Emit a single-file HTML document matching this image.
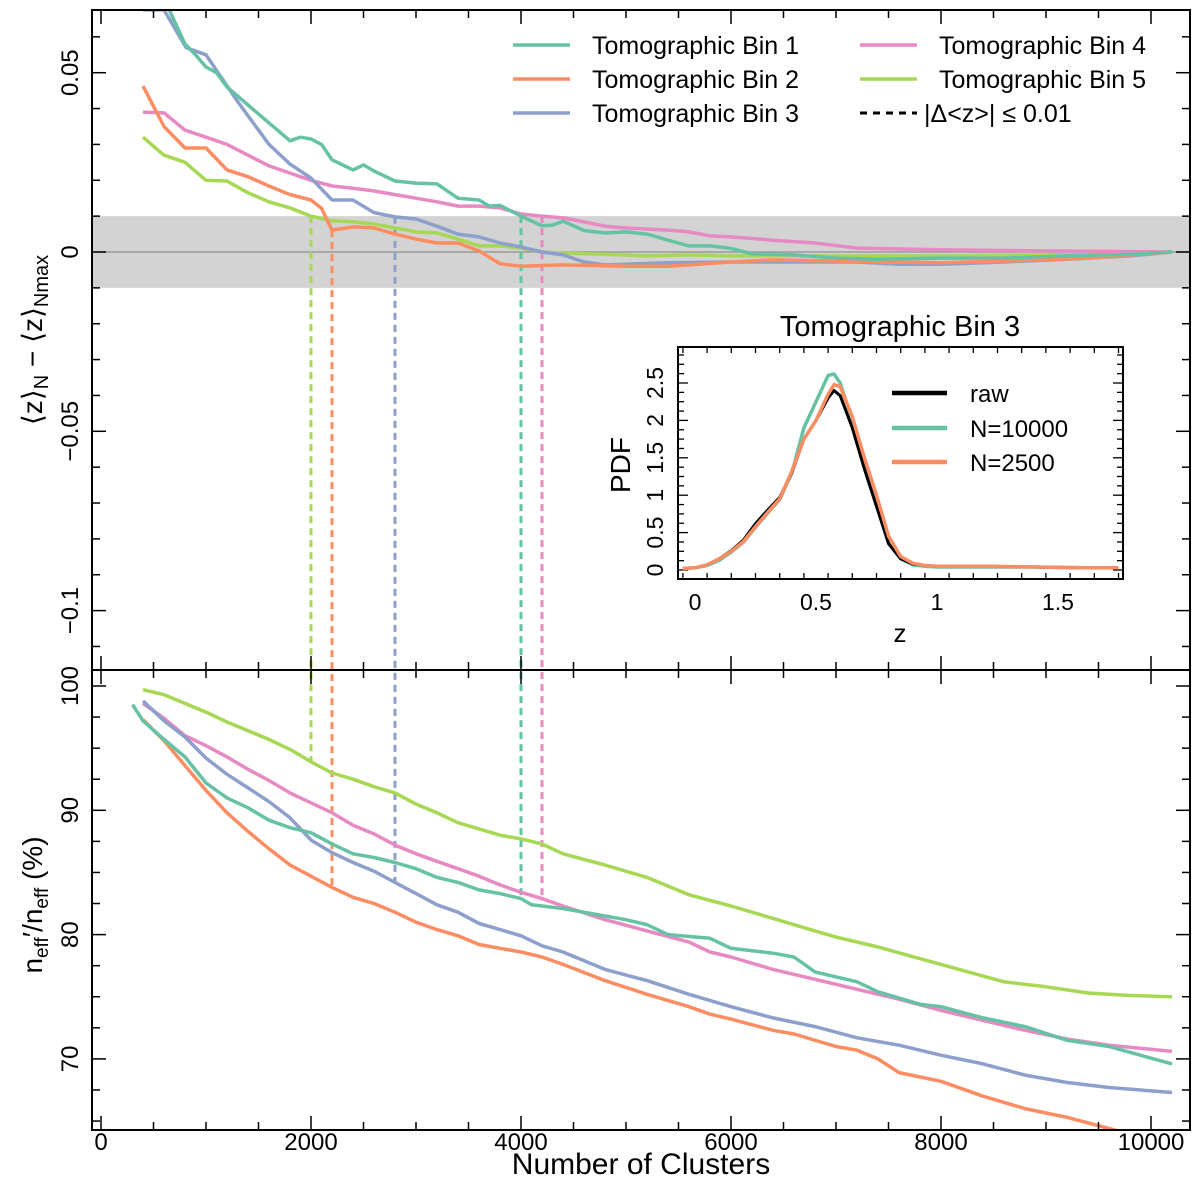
<!DOCTYPE html>
<html><head><meta charset="utf-8"><style>
body{margin:0;background:#fff}
svg{display:block;font-family:"Liberation Sans",sans-serif}
</style></head><body>
<svg id="c" width="1200" height="1186" viewBox="0 0 1200 1186"></svg>
<script>
const colors=['#66c2a5','#fc8d62','#8da0cb','#e78ac3','#a6d854'];
const binNames=['Tomographic Bin 1','Tomographic Bin 2','Tomographic Bin 3','Tomographic Bin 4','Tomographic Bin 5'];
// top panel: N and delta <z>
const topN1=[650,800,900,1000,1100,1200,1400,1600,1800,1900,2000,2100,2200,2400,2500,2600,2800,3000,3200,3400,3600,3700,3800,4000,4200,4300,4400,4600,4800,5000,5200,5400,5600,5800,6000,6200,6600,7000,7400,8000,8600,9200,9800,10200];
const topZ1=[0.0675,0.058,0.055,0.0516,0.050,0.046,0.041,0.036,0.031,0.032,0.0315,0.030,0.0257,0.0229,0.0243,0.0226,0.0198,0.0192,0.019,0.015,0.0145,0.0128,0.013,0.010,0.0073,0.0075,0.0086,0.006,0.0053,0.0056,0.005,0.0033,0.0017,0.0017,0.001,-0.0005,-0.0008,-0.0017,-0.002,-0.0017,-0.0017,-0.0011,-0.0006,0];
const topN2=[400,600,800,1000,1200,1400,1600,1800,2000,2100,2200,2400,2600,2800,3000,3200,3400,3600,3800,4000,4400,5000,5400,5600,6000,6400,7000,7500,8000,8600,9400,10200];
const topZ2=[0.0463,0.035,0.029,0.029,0.0229,0.021,0.0184,0.016,0.0145,0.0122,0.0061,0.007,0.0067,0.005,0.0036,0.0025,0.0025,0.0003,-0.0033,-0.004,-0.0036,-0.004,-0.004,-0.0036,-0.0028,-0.0022,-0.0025,-0.0028,-0.003,-0.0025,-0.0017,0];
const topN3=[400,600,810,1000,1300,1600,1800,2000,2200,2400,2600,2800,3000,3200,3400,3600,3800,4000,4200,4400,4600,4800,5000,5400,6000,6600,7200,7600,8000,8600,9200,9800,10200];
const topZ3=[0.0675,0.0675,0.057,0.055,0.042,0.030,0.0245,0.0206,0.0145,0.0145,0.011,0.0098,0.0092,0.0072,0.005,0.0042,0.0025,0.0014,0,-0.0008,-0.0028,-0.0036,-0.0034,-0.003,-0.0028,-0.0028,-0.0028,-0.0034,-0.0034,-0.0028,-0.002,-0.0011,0];
const topN4=[400,600,800,1000,1200,1400,1600,1800,2000,2200,2400,2600,2800,3000,3200,3400,3600,3800,4000,4200,4400,4600,4800,5000,5400,5600,5800,6000,6400,6800,7200,8000,9000,10200];
const topZ4=[0.039,0.0388,0.034,0.032,0.030,0.027,0.024,0.022,0.020,0.0184,0.0178,0.017,0.016,0.015,0.014,0.0128,0.0128,0.0123,0.0106,0.010,0.0095,0.0084,0.0072,0.0067,0.0061,0.0056,0.0045,0.0042,0.0033,0.0025,0.0011,0.0006,0.0003,0];
const topN5=[400,600,800,1000,1200,1400,1600,1800,2000,2200,2400,2600,2800,3000,3200,3400,3600,3800,4000,4200,4400,4800,5200,5600,6000,7000,8000,9000,10200];
const topZ5=[0.032,0.027,0.025,0.020,0.0198,0.0165,0.014,0.0123,0.010,0.0087,0.0084,0.0078,0.0067,0.0056,0.0053,0.0036,0.0017,0.0017,0.0011,0,-0.0003,-0.0006,-0.0011,-0.0008,-0.0011,-0.0011,-0.0011,-0.0008,0];
// bottom panel: n_eff ratio (%)
const botN1=[300,400,600,800,1000,1200,1400,1600,1800,2000,2200,2400,2600,2800,3000,3200,3400,3600,3800,4000,4100,4400,4800,5000,5200,5400,5800,6000,6400,6600,6800,7200,7400,7800,8000,8400,8800,9200,9600,10200];
const botV1=[98.5,97.2,95.7,94.3,92.2,91.0,90.2,89.2,88.6,88.2,87.3,86.5,86.2,85.8,85.3,84.6,84.2,83.6,83.3,82.9,82.4,82.1,81.5,81.2,80.8,80.0,79.7,78.9,78.5,78.2,77.0,76.2,75.4,74.4,74.2,73.3,72.6,71.5,71.0,69.6];
const botN2=[400,600,800,1000,1200,1400,1600,1800,2000,2200,2400,2600,2800,3000,3200,3400,3600,3800,4000,4200,4400,4800,5200,5600,5800,6000,6400,6600,7000,7200,7400,7600,8000,8400,8800,9200,9600,10200];
const botV2=[97.3,95.6,93.6,91.6,89.8,88.3,86.9,85.6,84.7,83.8,83.0,82.5,81.8,81.0,80.4,79.9,79.2,78.9,78.6,78.2,77.6,76.3,75.2,74.2,73.6,73.2,72.3,72.0,71.0,70.7,70.0,68.9,68.2,67.0,66.0,65.3,64.4,63.0];
const botN3=[400,600,800,1000,1200,1400,1600,1800,2000,2200,2400,2600,2800,3000,3200,3400,3600,3800,4000,4200,4400,4800,5200,5600,6000,6400,6800,7200,7600,8000,8400,8800,9200,9600,10200];
const botV3=[98.8,97.2,95.9,94.2,92.9,91.8,90.7,89.4,87.6,86.6,85.8,85.1,84.2,83.3,82.4,81.8,80.9,80.4,79.9,79.1,78.6,77.2,76.3,75.2,74.2,73.3,72.6,71.7,71.1,70.3,69.6,68.7,68.1,67.7,67.3];
const botN4=[400,600,800,1000,1200,1400,1600,1800,2000,2200,2400,2600,2800,3000,3200,3400,3600,3800,4000,4200,4400,4800,5200,5600,5800,6000,6400,6800,7200,7600,8000,8400,8800,9200,9600,10200];
const botV4=[98.6,97.4,96.0,95.2,94.3,93.3,92.4,91.4,90.6,89.8,88.8,88.1,87.2,86.5,85.9,85.3,84.7,84.0,83.4,82.9,82.3,81.2,80.3,79.4,78.6,78.2,77.2,76.4,75.6,74.8,73.9,73.1,72.3,71.6,71.1,70.6];
const botN5=[400,600,800,1000,1200,1400,1600,1800,2000,2200,2400,2600,2800,3000,3200,3400,3600,3800,4000,4200,4400,4800,5200,5600,6000,6400,6800,7000,7400,8000,8600,9000,9400,9800,10200];
const botV5=[99.7,99.3,98.6,97.9,97.1,96.4,95.7,94.9,93.9,93.0,92.5,91.9,91.4,90.5,89.8,89.0,88.5,88.0,87.7,87.3,86.5,85.6,84.6,83.2,82.3,81.3,80.3,79.8,79.0,77.6,76.2,75.8,75.3,75.1,75.0];
// thresholds |Δ<z>|<=0.01 per bin (bin1..bin5)
const threshN=[4000,2200,2800,4200,2000];
// inset PDFs
const pdfZ=[-0.05,0,0.05,0.1,0.15,0.2,0.25,0.3,0.35,0.4,0.45,0.5,0.55,0.575,0.6,0.65,0.7,0.75,0.8,0.85,0.9,0.95,1.0,1.2,1.4,1.6,1.75];
const pdfRaw=[0.02,0.03,0.07,0.15,0.26,0.4,0.62,0.8,0.97,1.3,1.75,2.0,2.3,2.4,2.33,1.9,1.35,0.85,0.35,0.15,0.08,0.06,0.05,0.05,0.04,0.03,0.03];
const pdf10000=[0.02,0.03,0.06,0.13,0.24,0.37,0.57,0.76,0.94,1.3,1.9,2.25,2.6,2.62,2.5,2.0,1.42,0.88,0.36,0.15,0.07,0.05,0.04,0.04,0.04,0.03,0.03];
const pdf2500=[0.02,0.03,0.07,0.15,0.25,0.38,0.58,0.77,0.95,1.32,1.75,2.0,2.35,2.48,2.45,2.05,1.5,1.0,0.45,0.18,0.09,0.06,0.05,0.05,0.04,0.03,0.03];
const xTicks=[0,2000,4000,6000,8000,10000];
const topTicks=[0.05,0,-0.05,-0.1];
const topTickLabels=['0.05','0','\u22120.05','\u22120.1'];
const botTicks=[100,90,80,70];

const NS='http://www.w3.org/2000/svg';
const svg=document.getElementById('c');
function mk(tag,attrs,parent){const e=document.createElementNS(NS,tag);for(const k in attrs)e.setAttribute(k,attrs[k]);(parent||svg).appendChild(e);return e;}
const L=92,R=1190,T=10,MID=670,B=1130;
const X=n=>101+n*0.105;
const YT=v=>252-v*3586;
const YB=v=>686+(100-v)*12.43;
const IX=z=>695+z*242;
const IY=p=>570-p*74.8;

const defs=mk('defs',{});
const c1=mk('clipPath',{id:'ct'},defs);mk('rect',{x:L,y:T,width:R-L,height:MID-T},c1);
const c2=mk('clipPath',{id:'cb'},defs);mk('rect',{x:L,y:MID,width:R-L,height:B-MID},c2);

const band=mk('rect',{x:L+1,y:YT(0.01),width:R-L-2,height:YT(-0.01)-YT(0.01),fill:'#d3d3d3'});


const zl=mk('line',{x1:L,x2:R,y1:YT(0),y2:YT(0),stroke:'#999','stroke-width':1.5});



const topSets=[[topN1,topZ1],[topN2,topZ2],[topN3,topZ3],[topN4,topZ4],[topN5,topZ5]];
const botSets=[[botN1,botV1],[botN2,botV2],[botN3,botV3],[botN4,botV4],[botN5,botV5]];
function interp(ns,vs,n){for(let i=1;i<ns.length;i++){if(ns[i]>=n){const t=(n-ns[i-1])/(ns[i]-ns[i-1]);return vs[i-1]+t*(vs[i]-vs[i-1]);}}return vs[vs.length-1];}
threshN.forEach((n,i)=>{
  const y1=YT(interp(topSets[i][0],topSets[i][1],n));
  const y2=YB(interp(botSets[i][0],botSets[i][1],n));
  const l=mk('line',{x1:X(n),x2:X(n),y1:y1,y2:y2,stroke:colors[i],'stroke-width':3,'stroke-dasharray':'7,5'});
  
  
});
function poly(ns,vs,fx,fy,col,clip,name,w){
  const p=mk('polyline',{points:ns.map((n,i)=>fx(n).toFixed(1)+','+fy(vs[i]).toFixed(1)).join(' '),fill:'none',stroke:col,'stroke-width':w||3.5,'stroke-linejoin':'round','clip-path':clip?'url(#'+clip+')':''});
  
  
  return p;
}
[4,3,2,1,0].forEach(i=>{poly(topSets[i][0],topSets[i][1],X,YT,colors[i],'ct','top-line-bin-'+(i+1));});
[4,3,2,1,0].forEach(i=>{poly(botSets[i][0],botSets[i][1],X,YB,colors[i],'cb','bottom-line-bin-'+(i+1));});

const f=mk('rect',{x:L,y:T,width:R-L,height:B-T,fill:'none',stroke:'#000','stroke-width':2});


mk('line',{x1:L,x2:R,y1:MID,y2:MID,stroke:'#000','stroke-width':2});
for(let n=0;n<=10000;n+=500){const maj=n%2000===0,len=maj?14:8;
  [[T,1],[MID,-1],[MID,1],[B,-1]].forEach(([y,d])=>mk('line',{x1:X(n),x2:X(n),y1:y,y2:y+d*len,stroke:'#000','stroke-width':1.5}));}
xTicks.forEach(n=>{const t=mk('text',{x:X(n),y:1150,'font-size':24,'text-anchor':'middle'});t.textContent=n;
  
  });
for(let k=-11;k<=6;k++){const v=k*0.01,y=YT(v);if(y<T||y>MID)continue;const maj=k%5===0,len=maj?14:8;
  mk('line',{x1:L,x2:L+len,y1:y,y2:y,stroke:'#000','stroke-width':1.5});mk('line',{x1:R,x2:R-len,y1:y,y2:y,stroke:'#000','stroke-width':1.5});}
topTicks.forEach((v,i)=>{const t=mk('text',{transform:`translate(78,${YT(v)}) rotate(-90)`,'font-size':24,'text-anchor':'middle'});t.textContent=topTickLabels[i];
  
  });
for(let v=65;v<=100;v+=2.5){const y=YB(v);if(y<MID||y>B)continue;const len=v%10===0?14:8;
  mk('line',{x1:L,x2:L+len,y1:y,y2:y,stroke:'#000','stroke-width':1.5});mk('line',{x1:R,x2:R-len,y1:y,y2:y,stroke:'#000','stroke-width':1.5});}
botTicks.forEach(v=>{const t=mk('text',{transform:`translate(78,${YB(v)}) rotate(-90)`,'font-size':24,'text-anchor':'middle'});t.textContent=v;
  
  });
let t=mk('text',{x:641,y:1174,'font-size':30,'text-anchor':'middle'});t.textContent='Number of Clusters';


t=mk('text',{transform:'translate(42,340) rotate(-90)','font-size':28,'text-anchor':'middle'});
t.innerHTML='⟨z⟩<tspan font-size="20" dy="6">N</tspan><tspan dy="-6"> − ⟨z⟩</tspan><tspan font-size="20" dy="6">Nmax</tspan>';


t=mk('text',{transform:'translate(42,905) rotate(-90)','font-size':28,'text-anchor':'middle'});
t.innerHTML='n<tspan font-size="19" dy="6">eff</tspan><tspan dy="-6">′/n</tspan><tspan font-size="19" dy="6">eff</tspan><tspan dy="-6"> (%)</tspan>';


const lg=mk('g',{});


const lpos=[[513,45],[513,79],[513,113],[860,45],[860,79]];
lpos.forEach(([x,y],i)=>{mk('line',{x1:x,x2:x+57,y1:y,y2:y,stroke:colors[i],'stroke-width':3.5},lg);
  const tt=mk('text',{x:x+79,y:y+9,'font-size':25},lg);tt.textContent=binNames[i];
  
  });
mk('line',{x1:860,x2:917,y1:113,y2:113,stroke:'#000','stroke-width':3,'stroke-dasharray':'7,6'},lg);
t=mk('text',{x:924,y:122,'font-size':25},lg);t.textContent='|Δ<z>| ≤ 0.01';



const ins=mk('g',{});


mk('rect',{x:678,y:347,width:445,height:232,fill:'#fff'},ins);
const c3=mk('clipPath',{id:'ci'},defs);mk('rect',{x:678,y:347,width:445,height:232},c3);
for(let z=-0.05;z<=1.76;z+=0.1){const zz=Math.round(z*20)/20;const x=IX(zz);if(x<678||x>1123)continue;const maj=Math.abs(zz*2-Math.round(zz*2))<1e-6,len=maj?10:6;
  mk('line',{x1:x,x2:x,y1:579,y2:579-len,stroke:'#000','stroke-width':1.3},ins);mk('line',{x1:x,x2:x,y1:347,y2:347+len,stroke:'#000','stroke-width':1.3},ins);}
for(let p=0;p<=3.01;p+=0.125){const y=IY(p);if(y<347)continue;const maj=Math.abs(p*2-Math.round(p*2))<1e-6,len=maj?10:6;
  mk('line',{x1:678,x2:678+len,y1:y,y2:y,stroke:'#000','stroke-width':1.3},ins);mk('line',{x1:1123,x2:1123-len,y1:y,y2:y,stroke:'#000','stroke-width':1.3},ins);}
poly(pdfZ,pdf10000,IX,IY,colors[0],'ci','inset-line-n10000',3.5);
poly(pdfZ,pdfRaw,IX,IY,'#000','ci','inset-line-raw',3);
poly(pdfZ,pdf2500,IX,IY,colors[1],'ci','inset-line-n2500',3.5);
mk('rect',{x:678,y:347,width:445,height:232,fill:'none',stroke:'#000','stroke-width':2},ins);
['0','0.5','1','1.5'].forEach(s=>{const e=mk('text',{x:IX(+s),y:610,'font-size':23,'text-anchor':'middle'},ins);e.textContent=s;
  
  });
['0','0.5','1','1.5','2','2.5'].forEach(s=>{const e=mk('text',{transform:`translate(663,${IY(+s)}) rotate(-90)`,'font-size':23,'text-anchor':'middle'},ins);e.textContent=s;
  
  });
t=mk('text',{x:900,y:642,'font-size':26,'text-anchor':'middle'},ins);t.textContent='z';


t=mk('text',{transform:'translate(630,465) rotate(-90)','font-size':28,'text-anchor':'middle'},ins);t.textContent='PDF';


t=mk('text',{x:900,y:336,'font-size':29,'text-anchor':'middle'},ins);t.textContent='Tomographic Bin 3';


[['raw','#000',393],['N=10000',colors[0],428],['N=2500',colors[1],462]].forEach(([s,c,y])=>{
  mk('line',{x1:892,x2:947,y1:y,y2:y,stroke:c,'stroke-width':4.5},ins);
  const e=mk('text',{x:970,y:y+9,'font-size':24},ins);e.textContent=s;
  
  });
</script>
</body></html>
